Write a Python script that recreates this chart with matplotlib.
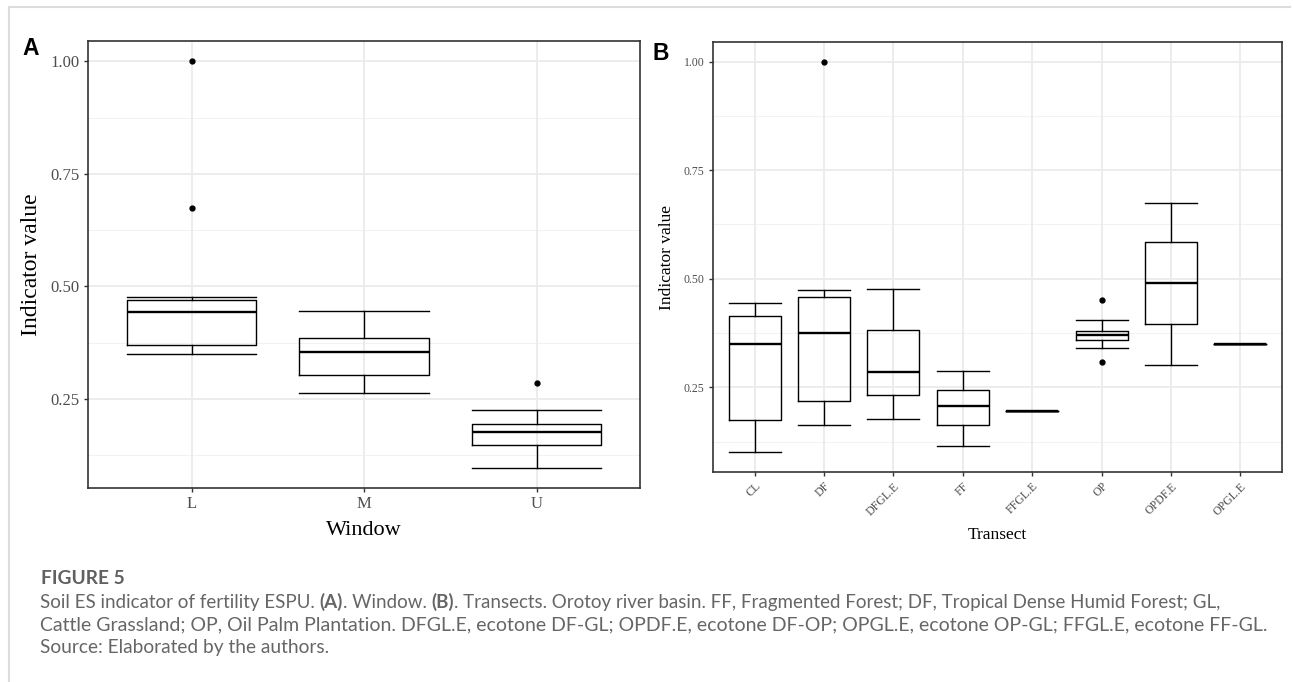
"""
Soil ES indicator of fertility (ESPU) - boxplots by window and by transect.
"""

import matplotlib
matplotlib.use("Agg")
import matplotlib.pyplot as plt
from matplotlib.lines import Line2D

# ---------------------------------------------------------------
# Data (box statistics)
# ---------------------------------------------------------------

window_labels = ["L", "M", "U"]
window_whislo = [0.349, 0.263, 0.097]
window_q1 = [0.370, 0.302, 0.147]
window_med = [0.442, 0.353, 0.177]
window_q3 = [0.470, 0.385, 0.194]
window_whishi = [0.477, 0.445, 0.226]
window_fliers = [[0.674, 1.00], [], [0.286]]

transect_labels = ["CL", "DF", "DFGL.E", "FF", "FFGL.E", "OP", "OPDF.E", "OPGL.E"]
transect_whislo = [0.100, 0.163, 0.177, 0.116, 0.196, 0.340, 0.301, 0.349]
transect_q1 = [0.174, 0.218, 0.232, 0.163, 0.196, 0.358, 0.396, 0.349]
transect_med = [0.350, 0.376, 0.285, 0.206, 0.196, 0.370, 0.489, 0.349]
transect_q3 = [0.414, 0.457, 0.381, 0.243, 0.196, 0.379, 0.584, 0.349]
transect_whishi = [0.443, 0.474, 0.477, 0.287, 0.196, 0.406, 0.675, 0.349]
transect_fliers = [[], [1.00], [], [], [], [0.450, 0.308], [], []]

y_ticks = [0.25, 0.50, 0.75, 1.00]
y_minor = [0.125, 0.375, 0.625, 0.875]

caption_title = "FIGURE 5"
caption_lines = [
    [("Soil ES indicator of fertility ESPU. ", "normal"), ("(A)", "bold"),
     (". Window. ", "normal"), ("(B)", "bold"),
     (". Transects. Orotoy river basin. FF, Fragmented Forest; DF, Tropical Dense Humid Forest; GL,", "normal")],
    [("Cattle Grassland; OP, Oil Palm Plantation. DFGL.E, ecotone DF-GL; OPDF.E, ecotone DF-OP; "
      "OPGL.E, ecotone OP-GL; FFGL.E, ecotone FF-GL.", "normal")],
    [("Source: Elaborated by the authors.", "normal")],
]

# ---------------------------------------------------------------
# Figure
# ---------------------------------------------------------------

W, H = 1293, 682
fig = plt.figure(figsize=(W / 100, H / 100), dpi=100)
fig.patch.set_facecolor("white")

SERIF = "Liberation Serif"
AXIS_COL = "#333333"
TICK_COL = "#4d4d4d"


def build_stats(labels, whislo, q1, med, q3, whishi, fliers):
    return [dict(label=l, whislo=a, q1=b, med=c, q3=d, whishi=e, fliers=f)
            for l, a, b, c, d, e, f in zip(labels, whislo, q1, med, q3, whishi, fliers)]


def draw_panel(rect, stats, tick_size, ylab_size, xlab_size, xlabel,
               ylab_x, xlab_y, rotate=False):
    ax = fig.add_axes(rect)
    n = len(stats)
    pos = list(range(1, n + 1))
    line = dict(color="black", linewidth=1.0)
    ax.bxp(stats, positions=pos, widths=0.75, capwidths=0.75,
           boxprops=line, whiskerprops=line, capprops=line,
           medianprops=dict(color="black", linewidth=1.7),
           flierprops=dict(marker="o", markerfacecolor="black",
                           markeredgecolor="black", markersize=3.5),
           zorder=3)

    # ggplot-like 5% expansion
    vals = []
    for s in stats:
        vals += [s["whislo"], s["whishi"]] + list(s["fliers"])
    lo, hi = min(vals), max(vals)
    pad = 0.05 * (hi - lo)
    ax.set_ylim(lo - pad, hi + pad)
    ax.set_xlim(0.4, n + 0.6)

    ax.set_yticks(y_ticks)
    ax.set_yticklabels([f"{v:.2f}" for v in y_ticks])
    ax.set_xticks(pos)
    if rotate:
        ax.set_xticklabels([s["label"] for s in stats], rotation=45,
                           ha="right", va="top", rotation_mode="anchor")
    else:
        ax.set_xticklabels([s["label"] for s in stats])

    for v in y_minor:
        ax.axhline(v, color="#f2f2f2", linewidth=0.8, zorder=0)
    for v in y_ticks:
        ax.axhline(v, color="#ebebeb", linewidth=1.3, zorder=0)
    for p in pos:
        ax.axvline(p, color="#ebebeb", linewidth=1.3, zorder=0)

    for sp in ax.spines.values():
        sp.set_color(AXIS_COL)
        sp.set_linewidth(1.2)
    ax.tick_params(axis="both", length=3, width=1, color=AXIS_COL,
                   labelcolor=TICK_COL, labelsize=tick_size, pad=3)
    for lab in ax.get_xticklabels() + ax.get_yticklabels():
        lab.set_family(SERIF)

    ax.set_ylabel("Indicator value", family=SERIF, fontsize=ylab_size, color="black")
    ax.set_xlabel(xlabel, family=SERIF, fontsize=xlab_size, color="black")
    ax.yaxis.set_label_coords(ylab_x, 0.5)
    ax.xaxis.set_label_coords(0.5, xlab_y)
    return ax


stats_a = build_stats(window_labels, window_whislo, window_q1, window_med,
                      window_q3, window_whishi, window_fliers)
stats_b = build_stats(transect_labels, transect_whislo, transect_q1, transect_med,
                      transect_q3, transect_whishi, transect_fliers)

ax_a = draw_panel([88 / W, 1 - 488 / H, 552 / W, 447 / H], stats_a,
                  tick_size=12, ylab_size=17, xlab_size=16, xlabel="Window",
                  ylab_x=-0.083, xlab_y=-0.074)
ax_b = draw_panel([713 / W, 1 - 472 / H, 569 / W, 430 / H], stats_b,
                  tick_size=8.5, ylab_size=12.5, xlab_size=12.5, xlabel="Transect",
                  ylab_x=-0.066, xlab_y=-0.127, rotate=True)

# panel letters
fig.text(22 / W, 1 - 55 / H, "A", family="Liberation Sans", fontweight="bold",
         fontsize=16.5, color="black")
fig.text(653 / W, 1 - 60 / H, "B", family="Liberation Sans", fontweight="bold",
         fontsize=16.5, color="black")

# light frame on top and left
fig.add_artist(Line2D([9 / W, 1290 / W], [1 - 7 / H, 1 - 7 / H],
                      color="#dcdcdc", linewidth=1.5))
fig.add_artist(Line2D([9 / W, 9 / W], [1 - 7 / H, 0], color="#dcdcdc", linewidth=1.5))

# ---------------------------------------------------------------
# Caption
# ---------------------------------------------------------------

CAP_FONT = "Lato"
CAP_COL = "#666666"
renderer = fig.canvas.get_renderer()


def text_width(s, size, weight):
    t = fig.text(0, 0, s, family=CAP_FONT, fontsize=size, fontweight=weight)
    w = t.get_window_extent(renderer).width
    t.remove()
    return w


def advance(s, size, weight):
    return text_width("|" + s + "|", size, weight) - text_width("||", size, weight)


def line_width(parts, size):
    return sum(advance(s, size, w) for s, w in parts)


# fit each caption line to the span it has in the figure
size1 = 10 * 1178 / line_width(caption_lines[0], 10)
size2 = 10 * 1222 / line_width(caption_lines[1], 10)
cap_sizes = [size1, size2, (size1 + size2) / 2]

fig.text(41 / W, 1 - 584 / H, caption_title, family=CAP_FONT, fontsize=cap_sizes[2],
         fontweight="bold", color="#606060", va="baseline")

baselines = [608, 630.5, 653]
for parts, yb, size in zip(caption_lines, baselines, cap_sizes):
    x = 40.0
    for s, weight in parts:
        fig.text(x / W, 1 - yb / H, s, family=CAP_FONT, fontsize=size,
                 fontweight=weight, color=CAP_COL, va="baseline")
        x += advance(s, size, weight)

fig.savefig("out.png", dpi=100)
plt.close(fig)
